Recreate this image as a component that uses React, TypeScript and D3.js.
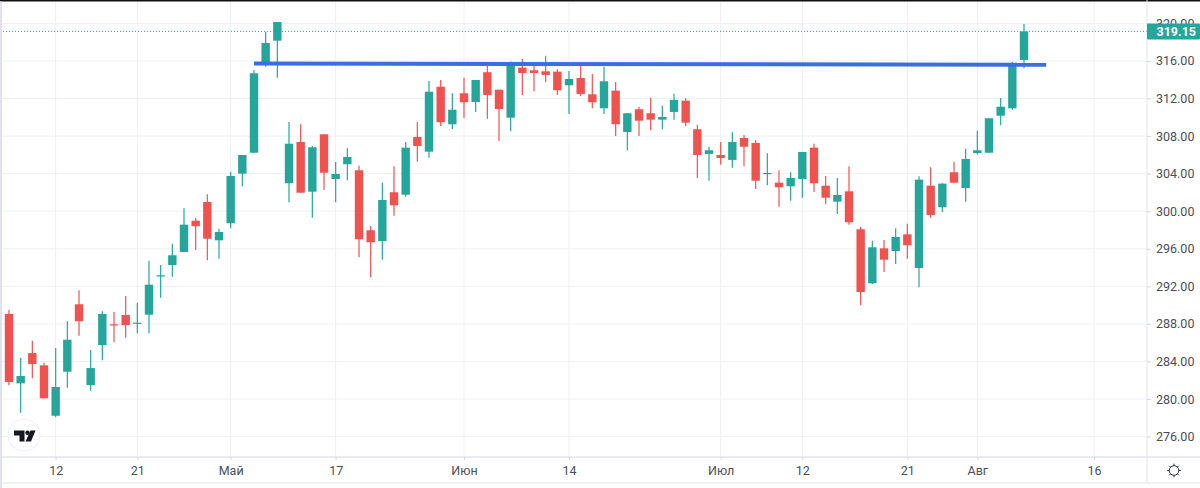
import { useEffect, useRef } from "react";
import * as d3 from "d3";

const opens = [289.06, 281.67, 284.9, 283.59, 278.22, 282.91, 290.09, 281.49, 285.75, 287.96, 288.95, 288.02, 288.98, 293.07, 294.27, 295.66, 298.99, 300.98, 296.9, 298.72, 304.0, 306.23, 315.79, 318.16, 302.98, 307.37, 302.08, 308.19, 303.43, 305.0, 304.36, 297.97, 296.83, 302.02, 301.76, 307.91, 306.34, 313.26, 309.26, 312.56, 311.63, 314.8, 312.94, 309.96, 315.29, 315.01, 314.9, 314.86, 313.41, 314.19, 312.45, 310.96, 312.84, 308.44, 310.86, 310.43, 309.75, 310.57, 311.77, 308.73, 306.1, 305.99, 305.46, 307.8, 307.27, 304.0, 303.04, 302.66, 303.43, 306.77, 302.72, 301.02, 302.12, 298.08, 292.33, 296.05, 295.76, 297.54, 293.95, 302.72, 300.42, 304.15, 302.47, 306.2, 306.23, 310.17, 310.96, 316.11];
const highs = [289.48, 284.4, 286.21, 283.87, 285.43, 288.28, 291.58, 285.22, 289.34, 289.27, 290.97, 290.26, 294.73, 294.27, 296.54, 300.31, 299.28, 301.8, 298.14, 304.21, 305.99, 315.01, 319.12, 320.15, 309.5, 309.26, 306.95, 308.19, 305.24, 306.7, 304.85, 298.43, 303.04, 304.79, 307.37, 309.5, 313.87, 313.98, 312.56, 314.22, 313.98, 315.57, 312.94, 315.93, 316.21, 315.57, 316.56, 315.12, 314.93, 315.57, 314.62, 315.39, 313.76, 310.43, 311.13, 312.09, 311.24, 312.52, 312.03, 309.22, 306.87, 307.37, 308.41, 308.12, 307.59, 306.17, 304.36, 304.15, 306.31, 307.19, 303.75, 303.54, 304.79, 298.35, 296.86, 296.94, 298.18, 298.67, 303.72, 304.68, 302.98, 305.28, 306.66, 308.58, 309.9, 312.06, 315.89, 319.94];
const lows = [281.46, 278.54, 282.21, 280.08, 278.05, 281.21, 286.74, 280.89, 284.12, 286.04, 286.53, 287.0, 287.0, 290.79, 293.03, 295.66, 295.87, 294.78, 294.94, 298.18, 302.66, 306.2, 315.39, 314.22, 300.95, 301.97, 299.31, 302.26, 300.95, 303.3, 295.09, 292.96, 294.84, 299.52, 301.55, 305.28, 305.7, 309.08, 308.76, 309.93, 310.57, 309.85, 307.48, 308.51, 312.38, 312.77, 313.73, 312.38, 310.36, 312.27, 310.96, 310.36, 308.01, 306.49, 308.01, 308.62, 308.73, 309.75, 309.05, 303.54, 303.25, 304.96, 304.64, 304.79, 302.37, 302.76, 300.48, 301.12, 301.44, 302.05, 300.74, 299.71, 298.57, 289.98, 292.25, 293.53, 294.38, 294.95, 291.9, 299.31, 299.92, 302.98, 301.02, 306.06, 306.23, 309.15, 310.81, 315.22];
const closes = [281.81, 282.45, 283.73, 280.08, 281.28, 286.32, 288.28, 283.3, 289.06, 287.88, 287.88, 288.13, 292.18, 293.18, 295.31, 298.57, 298.4, 297.07, 297.79, 303.75, 305.99, 314.69, 317.92, 320.15, 307.19, 301.97, 306.81, 304.1, 303.97, 305.78, 297.01, 296.69, 301.2, 300.63, 306.77, 306.95, 312.73, 309.47, 310.81, 311.6, 313.98, 312.38, 310.89, 315.76, 314.72, 314.72, 314.51, 312.88, 314.08, 312.49, 311.6, 313.84, 309.26, 310.43, 309.64, 309.75, 310.04, 311.85, 309.43, 305.99, 306.49, 305.67, 307.37, 306.87, 303.25, 304.07, 302.55, 303.54, 306.31, 302.98, 301.44, 301.73, 298.82, 291.4, 296.16, 294.84, 297.26, 296.37, 303.36, 299.6, 302.94, 303.04, 305.56, 306.49, 309.9, 311.13, 315.76, 319.15];

const priceTicks = [320, 316, 312, 308, 304, 300, 296, 292, 288, 284, 280, 276];
const dateTickIndex = [4, 11, 19, 28, 39, 48, 61, 68, 77, 83, 93];
const dateTickLabels = ["12", "21", "Май", "17", "Июн", "14", "Июл", "12", "21", "Авг", "16"];

const lastPrice = 319.15;
// hand-drawn resistance line: [candle index, price]
const trendLine: [number, number][] = [[21, 315.73], [88.9, 315.6]];

const UP = "#26a69a";
const DOWN = "#ef5350";
const GRID = "#eef0f3";
const BORDER = "#e3e5ea";
const TEXT = "#4a4e59";
const FONT = "Roboto, sans-serif";

export default function App() {
  const svgRef = useRef<SVGSVGElement>(null);

  useEffect(() => {
    if (!svgRef.current) return;
    const svg = d3.select(svgRef.current);
    svg.selectAll("*").remove();

    const width = 1200;
    const height = 488;
    const axisX = 1147;
    const axisY = 457;

    const x = d3.scaleLinear().domain([0, 87]).range([9, 1024]);
    const y = d3.scaleLinear().domain([276, 320]).range([436.6, 23.4]);

    // Grid
    svg.append("g")
      .selectAll("line")
      .data(priceTicks)
      .join("line")
      .attr("x1", 0)
      .attr("x2", axisX)
      .attr("y1", (d) => y(d))
      .attr("y2", (d) => y(d))
      .attr("stroke", GRID);
    svg.append("g")
      .selectAll("line")
      .data(dateTickIndex)
      .join("line")
      .attr("x1", (d) => x(d))
      .attr("x2", (d) => x(d))
      .attr("y1", 0)
      .attr("y2", axisY)
      .attr("stroke", GRID);

    // Candles
    const idx = d3.range(opens.length);
    const candles = svg.append("g");
    candles.selectAll("line")
      .data(idx)
      .join("line")
      .attr("x1", (i) => x(i))
      .attr("x2", (i) => x(i))
      .attr("y1", (i) => y(highs[i]))
      .attr("y2", (i) => y(lows[i]))
      .attr("stroke", (i) => (closes[i] >= opens[i] ? UP : DOWN))
      .attr("stroke-width", 1.2);
    candles.selectAll("rect")
      .data(idx)
      .join("rect")
      .attr("x", (i) => x(i) - 4.2)
      .attr("width", 8.4)
      .attr("y", (i) => y(Math.max(opens[i], closes[i])))
      .attr("height", (i) => Math.max(1.2, Math.abs(y(opens[i]) - y(closes[i]))))
      .attr("fill", (i) => (closes[i] >= opens[i] ? UP : DOWN));

    // Resistance line
    svg.append("path")
      .attr("d", d3.line<[number, number]>().x((d) => x(d[0])).y((d) => y(d[1]))(trendLine))
      .attr("fill", "none")
      .attr("stroke", "#3b6fdf")
      .attr("stroke-width", 4);

    // Last price line
    svg.append("line")
      .attr("x1", 0)
      .attr("x2", axisX)
      .attr("y1", y(lastPrice))
      .attr("y2", y(lastPrice))
      .attr("stroke", UP)
      .attr("stroke-width", 1)
      .attr("stroke-dasharray", "1 2");

    // Axes panel
    svg.append("rect").attr("x", 0).attr("y", 0).attr("width", width).attr("height", 1.5).attr("fill", "#111");
    svg.append("rect").attr("x", 0).attr("y", 1.5).attr("width", 2).attr("height", height).attr("fill", "#dfe1ee");
    svg.append("line").attr("x1", 2).attr("x2", width).attr("y1", axisY).attr("y2", axisY).attr("stroke", BORDER).attr("stroke-width", 1.5);
    svg.append("line").attr("x1", 2).attr("x2", width).attr("y1", 483).attr("y2", 483).attr("stroke", BORDER);
    svg.append("line").attr("x1", axisX).attr("x2", axisX).attr("y1", 0).attr("y2", 483).attr("stroke", BORDER);

    const yAxis = d3.axisRight(y).tickValues(priceTicks).tickFormat((d) => d3.format(".2f")(d as number)).tickSize(4).tickPadding(5);
    const yG = svg.append("g").attr("transform", `translate(${axisX},0)`).call(yAxis);
    const xAxis = d3.axisBottom(x)
      .tickValues(dateTickIndex)
      .tickFormat((_, i) => dateTickLabels[i])
      .tickSize(3)
      .tickPadding(6);
    const xG = svg.append("g").attr("transform", `translate(0,${axisY})`).call(xAxis);
    for (const g of [yG, xG]) {
      g.select(".domain").remove();
      g.selectAll("line").attr("stroke", "#d5d8df");
      g.selectAll("text").attr("fill", TEXT).attr("font-family", FONT).attr("font-size", 12.5);
    }

    // Last price label
    const label = svg.append("g").attr("transform", `translate(${axisX},${y(lastPrice)})`);
    label.append("rect").attr("x", 0).attr("y", -8).attr("width", 53).attr("height", 16).attr("rx", 1).attr("fill", UP);
    label.append("text")
      .attr("x", 9.5)
      .attr("dy", "0.35em")
      .attr("fill", "#fff")
      .attr("font-family", FONT)
      .attr("font-weight", 700)
      .attr("font-size", 12.5)
      .text(d3.format(".2f")(lastPrice));

    // Logo badge
    const logo = svg.append("g").attr("transform", "translate(24,435)");
    logo.append("circle").attr("r", 16).attr("fill", "#fff").attr("stroke", "#eceef2").attr("stroke-width", 1);
    const mark = logo.append("g").attr("transform", "translate(0.5,1)").attr("fill", "#131722");
    mark.append("path").attr("d", "M-10.5,-5.5h10.5v11h-5v-6h-5.5z");
    mark.append("path").attr("d", "M6,-5.5h5l-4.5,11h-5.5z");
    mark.append("circle").attr("cx", 3).attr("cy", -3.3).attr("r", 2.2);

    // Settings icon
    const gear = svg.append("g").attr("transform", "translate(1174,470.5)").attr("fill", "none").attr("stroke", "#2a2e39").attr("stroke-width", 1);
    gear.append("circle").attr("r", 4.8);
    gear.selectAll("line")
      .data(d3.range(8))
      .join("line")
      .attr("x1", (d) => 4.8 * Math.cos((d * Math.PI) / 4))
      .attr("y1", (d) => 4.8 * Math.sin((d * Math.PI) / 4))
      .attr("x2", (d) => 6.8 * Math.cos((d * Math.PI) / 4))
      .attr("y2", (d) => 6.8 * Math.sin((d * Math.PI) / 4));
  }, []);

  return <svg ref={svgRef} width={1200} height={488} style={{ position: "absolute", left: 0, top: 0, background: "#fff" }} />;
}
